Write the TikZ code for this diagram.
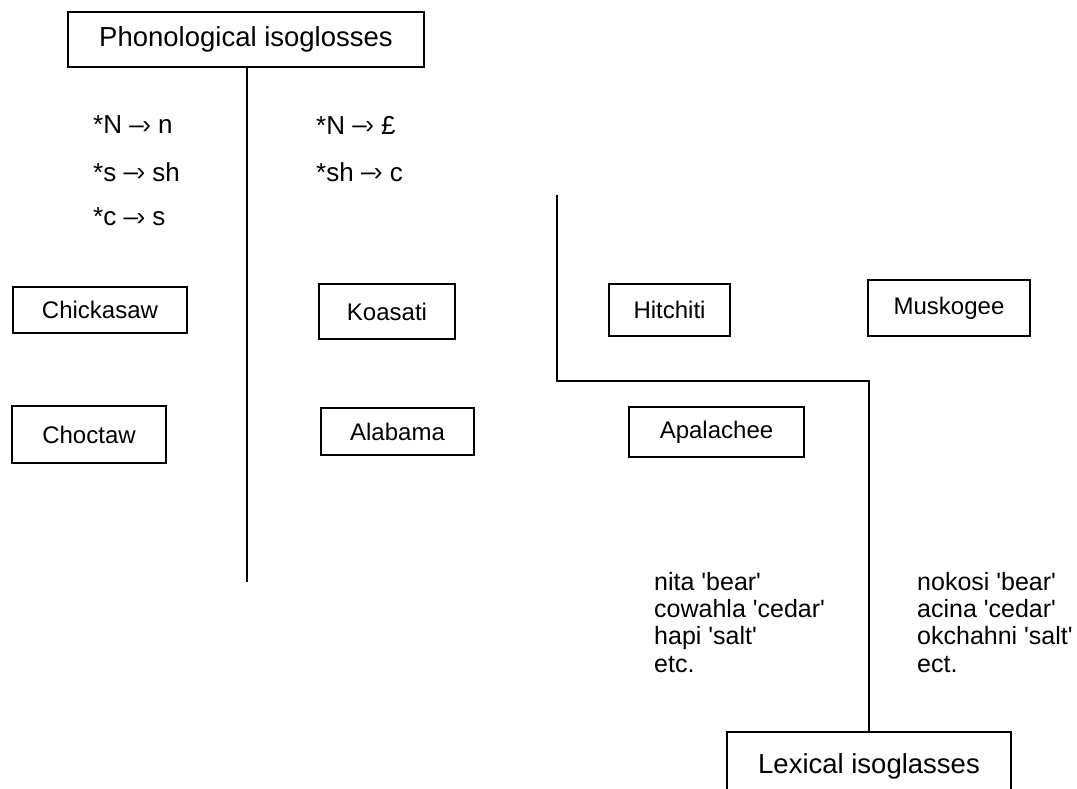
\documentclass[tikz,border=0pt]{standalone}
\usepackage{fontspec}
\setmainfont{Liberation Sans}[Ligatures=TeXOff]
\newcommand{\arr}{\raisebox{0.5pt}{–\kern-1.5pt›}}
\begin{document}
\begin{tikzpicture}[x=1pt,y=-1pt,
  lbox/.style={draw,line width=2.6pt,inner sep=0pt,font=\fontsize{24}{27}\selectfont},
  tbox/.style={draw,line width=2.6pt,inner sep=0pt,font=\fontsize{27.5}{31}\selectfont},
  rule/.style={anchor=west,inner sep=0pt,font=\fontsize{26}{29}\selectfont},
  words/.style={anchor=north west,inner sep=0pt,align=left,font=\fontsize{25}{27.3}\selectfont},
  iso/.style={line width=2.6pt}]
\useasboundingbox (0,0) rectangle (1077,788);
\fill[white] (0,0) rectangle (1077,788);
\clip (0,0) rectangle (1077,788);
% title boxes
\node[tbox,minimum width=356pt,minimum height=55pt] (ph) at (246,39.5) {Phonological isoglosses};
\node[tbox,minimum width=284pt,minimum height=68pt] (lex) at (869,766) {Lexical isoglasses};
% language boxes
\node[lbox,minimum width=174pt,minimum height=46pt] (chick) at (100,310) {Chickasaw};
\node[lbox,minimum width=154pt,minimum height=57pt] (choc) at (89,434.5) {Choctaw};
\node[lbox,minimum width=136pt,minimum height=55pt] (koa) at (387,311.5) {Koasati};
\node[lbox,minimum width=153pt,minimum height=47pt] (ala) at (397.5,431.5) {Alabama};
\node[lbox,minimum width=121pt,minimum height=52pt] (hit) at (669.5,310) {Hitchiti};
\node[lbox,minimum width=162pt,minimum height=56pt] (musk) at (949,308) {Muskogee};
\node[lbox,minimum width=175pt,minimum height=50pt] (apa) at (716.5,432) {Apalachee};
% isogloss lines
\coordinate (p1) at (247,582);
\draw[iso] (ph.south -| p1) -- (p1);
\coordinate (l1) at (557,195);
\coordinate (l2) at (557,381);
\coordinate (l3) at (lex.north |- l2);
\draw[iso] (l1) -- (l2) -- (l3) -- (lex.north);
% phonological rules
\node[rule] (r1) at (93,125) {*N \arr{} n};
\node[rule] (r2) at (93,172) {*s \arr{} sh};
\node[rule] (r3) at (93,217) {*c \arr{} s};
\node[rule] (r4) at (316,125) {*N \arr{} £};
\node[rule] (r5) at (316,172) {*sh \arr{} c};
% lexical items
\node[words] (w1) at (654,572) {nita 'bear'\\cowahla 'cedar'\\hapi 'salt'\\etc.};
\node[words] (w2) at (917,572) {nokosi 'bear'\\acina 'cedar'\\okchahni 'salt'\\ect.};
\end{tikzpicture}
\end{document}
